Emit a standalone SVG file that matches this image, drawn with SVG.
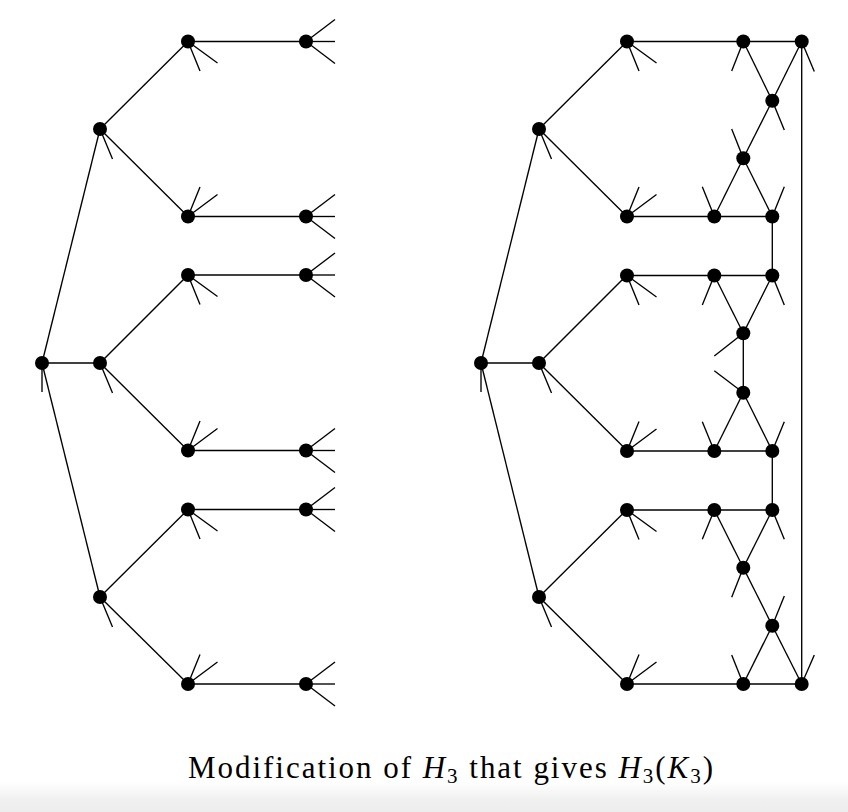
<svg xmlns="http://www.w3.org/2000/svg" width="848" height="812" viewBox="0 0 848 812">
<style>
line{stroke:#000;stroke-width:1.35;stroke-linecap:butt}
circle{fill:#000}
.cap{font-family:"Liberation Serif","DejaVu Serif",serif;font-size:31px;fill:#000}
.it{font-style:italic}
.sb{font-size:21px}
</style>
<defs>
<linearGradient id="bg" x1="0" y1="0" x2="0" y2="1">
<stop offset="0" stop-color="#ffffff"/>
<stop offset="0.6" stop-color="#f0f0f0"/>
<stop offset="1" stop-color="#ededed"/>
</linearGradient>
<g id="up2"><line x1="0" y1="0" x2="12" y2="29.5"/><line x1="0" y1="0" x2="29.5" y2="21.5"/><circle r="7"/></g>
<g id="lo2"><line x1="0" y1="0" x2="12" y2="-29.5"/><line x1="0" y1="0" x2="29.5" y2="-22"/><circle r="7"/></g>
<g id="leaf"><line x1="0" y1="0" x2="29" y2="-22"/><line x1="0" y1="0" x2="29" y2="0"/><line x1="0" y1="0" x2="29" y2="22"/><circle r="7"/></g>
<g id="mid"><line x1="0" y1="0" x2="12.5" y2="30"/><circle r="7"/></g>
<g id="root"><line x1="0" y1="0" x2="0" y2="29"/><circle r="7"/></g>
</defs>
<rect x="0" y="0" width="848" height="812" fill="#fff"/>
<rect x="0" y="782" width="848" height="30" fill="url(#bg)"/>

<g id="connectors">
<!-- left tree -->
<line x1="42" y1="363" x2="100" y2="129"/>
<line x1="42" y1="363" x2="100" y2="363"/>
<line x1="42" y1="363" x2="100" y2="597"/>
<line x1="100" y1="129" x2="188" y2="41.5"/>
<line x1="100" y1="129" x2="188" y2="216.5"/>
<line x1="100" y1="363" x2="188" y2="275"/>
<line x1="100" y1="363" x2="188" y2="450.5"/>
<line x1="100" y1="597" x2="188" y2="509.5"/>
<line x1="100" y1="597" x2="188" y2="684"/>
<line x1="188" y1="41.5" x2="306" y2="41.5"/>
<line x1="188" y1="216.5" x2="306" y2="216.5"/>
<line x1="188" y1="275" x2="306" y2="275"/>
<line x1="188" y1="450.5" x2="306" y2="450.5"/>
<line x1="188" y1="509.5" x2="306" y2="509.5"/>
<line x1="188" y1="684" x2="306" y2="684"/>
<!-- right tree -->
<line x1="481" y1="363" x2="539" y2="129"/>
<line x1="481" y1="363" x2="539" y2="363"/>
<line x1="481" y1="363" x2="539" y2="597"/>
<line x1="539" y1="129" x2="627" y2="41.5"/>
<line x1="539" y1="129" x2="627" y2="216.5"/>
<line x1="539" y1="363" x2="627" y2="275"/>
<line x1="539" y1="363" x2="627" y2="450.5"/>
<line x1="539" y1="597" x2="627" y2="509.5"/>
<line x1="539" y1="597" x2="627" y2="684"/>
<!-- right gadget rows -->
<line x1="627" y1="41.5" x2="801.7" y2="41.5"/>
<line x1="627" y1="216.5" x2="772.3" y2="216.5"/>
<line x1="627" y1="275.5" x2="772.3" y2="275.5"/>
<line x1="627" y1="451" x2="772.3" y2="451"/>
<line x1="627" y1="510" x2="772.3" y2="510"/>
<line x1="627" y1="684" x2="801.7" y2="684"/>
<!-- top gadget -->
<line x1="743.3" y1="41.5" x2="772.3" y2="100.7"/>
<line x1="801.7" y1="41.5" x2="772.3" y2="100.7"/>
<line x1="772.3" y1="100.7" x2="743.3" y2="158.3"/>
<line x1="743.3" y1="158.3" x2="714.3" y2="216.5"/>
<line x1="743.3" y1="158.3" x2="772.3" y2="216.5"/>
<line x1="772.3" y1="216.5" x2="772.3" y2="275.5"/>
<!-- middle gadget -->
<line x1="714.3" y1="275.5" x2="743.3" y2="333.3"/>
<line x1="772.3" y1="275.5" x2="743.3" y2="333.3"/>
<line x1="743.3" y1="333.3" x2="743.3" y2="392.7"/>
<line x1="743.3" y1="392.7" x2="714.3" y2="451"/>
<line x1="743.3" y1="392.7" x2="772.3" y2="451"/>
<line x1="772.3" y1="451" x2="772.3" y2="510"/>
<!-- bottom gadget -->
<line x1="714.3" y1="510" x2="743.3" y2="567.7"/>
<line x1="772.3" y1="510" x2="743.3" y2="567.7"/>
<line x1="743.3" y1="567.7" x2="772.3" y2="625.7"/>
<line x1="772.3" y1="625.7" x2="743.3" y2="684"/>
<line x1="772.3" y1="625.7" x2="801.7" y2="684"/>
<!-- long vertical -->
<line x1="801.7" y1="41.5" x2="801.7" y2="684"/>
</g>

<g id="left-tree">
<use id="L-root" href="#root" x="42" y="363"/>
<use id="L-a" href="#mid" x="100" y="129"/>
<use id="L-b" href="#mid" x="100" y="363"/>
<use id="L-c" href="#mid" x="100" y="597"/>
<use id="L-a1" href="#up2" x="188" y="41.5"/>
<use id="L-a2" href="#lo2" x="188" y="216.5"/>
<use id="L-b1" href="#up2" x="188" y="275"/>
<use id="L-b2" href="#lo2" x="188" y="450.5"/>
<use id="L-c1" href="#up2" x="188" y="509.5"/>
<use id="L-c2" href="#lo2" x="188" y="684"/>
<use id="L-l1" href="#leaf" x="306" y="41.5"/>
<use id="L-l2" href="#leaf" x="306" y="216.5"/>
<use id="L-l3" href="#leaf" x="306" y="275"/>
<use id="L-l4" href="#leaf" x="306" y="450.5"/>
<use id="L-l5" href="#leaf" x="306" y="509.5"/>
<use id="L-l6" href="#leaf" x="306" y="684"/>
</g>

<g id="right-tree">
<use id="R-root" href="#root" x="481" y="363"/>
<use id="R-a" href="#mid" x="539" y="129"/>
<use id="R-b" href="#mid" x="539" y="363"/>
<use id="R-c" href="#mid" x="539" y="597"/>
<use id="R-a1" href="#up2" x="627" y="41.5"/>
<use id="R-a2" href="#lo2" x="627" y="216.5"/>
<use id="R-b1" href="#up2" x="627" y="275.5"/>
<use id="R-b2" href="#lo2" x="627" y="451"/>
<use id="R-c1" href="#up2" x="627" y="510"/>
<use id="R-c2" href="#lo2" x="627" y="684"/>
</g>

<g id="gadget-top">
<g id="g1"><line x1="743.3" y1="41.5" x2="731.7" y2="71"/><circle cx="743.3" cy="41.5" r="7"/></g>
<g id="g2"><line x1="801.7" y1="41.5" x2="814.3" y2="71.5"/><circle cx="801.7" cy="41.5" r="7"/></g>
<g id="g3"><line x1="772.3" y1="100.7" x2="784.3" y2="130"/><circle cx="772.3" cy="100.7" r="7"/></g>
<g id="g4"><line x1="743.3" y1="158.3" x2="731.7" y2="129"/><circle cx="743.3" cy="158.3" r="7"/></g>
<g id="g5"><line x1="714.3" y1="216.5" x2="702.3" y2="186.7"/><circle cx="714.3" cy="216.5" r="7"/></g>
<g id="g6"><line x1="772.3" y1="216.5" x2="784.3" y2="186.7"/><circle cx="772.3" cy="216.5" r="7"/></g>
</g>

<g id="gadget-mid">
<g id="m1"><line x1="714.3" y1="275.5" x2="702.3" y2="305"/><circle cx="714.3" cy="275.5" r="7"/></g>
<g id="m2"><line x1="772.3" y1="275.5" x2="784.3" y2="305"/><circle cx="772.3" cy="275.5" r="7"/></g>
<g id="m3"><line x1="743.3" y1="333.3" x2="714.3" y2="356"/><circle cx="743.3" cy="333.3" r="7"/></g>
<g id="m4"><line x1="743.3" y1="392.7" x2="714.3" y2="370.7"/><circle cx="743.3" cy="392.7" r="7"/></g>
<g id="m5"><line x1="714.3" y1="451" x2="702.3" y2="421.7"/><circle cx="714.3" cy="451" r="7"/></g>
<g id="m6"><line x1="772.3" y1="451" x2="784.3" y2="421.7"/><circle cx="772.3" cy="451" r="7"/></g>
</g>

<g id="gadget-bottom">
<g id="b1"><line x1="714.3" y1="510" x2="702.3" y2="539.3"/><circle cx="714.3" cy="510" r="7"/></g>
<g id="b2"><line x1="772.3" y1="510" x2="784.3" y2="539.3"/><circle cx="772.3" cy="510" r="7"/></g>
<g id="b3"><line x1="743.3" y1="567.7" x2="731.7" y2="597.3"/><circle cx="743.3" cy="567.7" r="7"/></g>
<g id="b4"><line x1="772.3" y1="625.7" x2="784.3" y2="596"/><circle cx="772.3" cy="625.7" r="7"/></g>
<g id="b5"><line x1="743.3" y1="684" x2="731.7" y2="655"/><circle cx="743.3" cy="684" r="7"/></g>
<g id="b6"><line x1="801.7" y1="684" x2="814.3" y2="655"/><circle cx="801.7" cy="684" r="7"/></g>
</g>

<text id="caption" class="cap" x="188" y="777.5" textLength="525" lengthAdjust="spacing">Modification of <tspan class="it">H</tspan><tspan class="sb" dy="5">3</tspan><tspan dy="-5"> that gives </tspan><tspan class="it">H</tspan><tspan class="sb" dy="5">3</tspan><tspan dy="-5">(</tspan><tspan class="it">K</tspan><tspan class="sb" dy="5">3</tspan><tspan dy="-5">)</tspan></text>
</svg>
